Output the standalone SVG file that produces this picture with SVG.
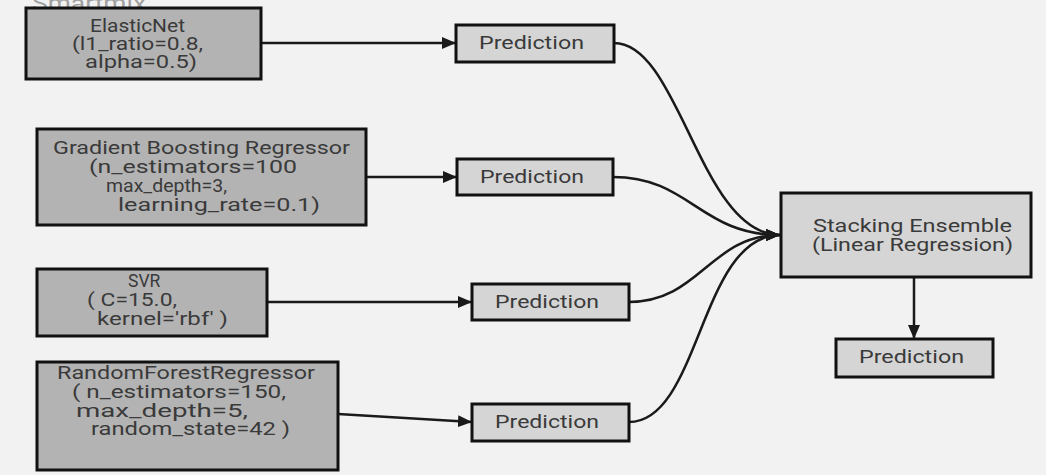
<svg xmlns="http://www.w3.org/2000/svg" width="1046" height="475" viewBox="0 0 1046 475">
<defs>
<style>
.bg{fill:#f2f2f2}
.model{fill:#b3b3b3;stroke:#111;stroke-width:3}
.pred{fill:#d5d5d5;stroke:#111;stroke-width:3}
.t{font-family:Roboto,"Liberation Sans",sans-serif;font-size:17.5px;fill:#3a3a3a}
.wm{font-family:Roboto,"Liberation Sans",sans-serif;font-size:22px;fill:#a0a0a0}
.c{fill:none;stroke:#1a1a1a;stroke-width:2.5}
</style>
<marker id="ah" markerUnits="userSpaceOnUse" markerWidth="14" markerHeight="12" refX="14" refY="6" orient="auto">
<path d="M0,0 L14,6 L0,12 Z" fill="#1a1a1a"/>
</marker>
</defs>
<rect class="bg" x="0" y="0" width="1046" height="475"/>
<text class="wm" x="32" y="11" textLength="114" lengthAdjust="spacingAndGlyphs">Smartmix</text>
<g id="connectors">
<path class="c" d="M261,43 L456,43" marker-end="url(#ah)"/>
<path class="c" d="M366,177 L457,177" marker-end="url(#ah)"/>
<path class="c" d="M267,302 L472,302" marker-end="url(#ah)"/>
<path class="c" d="M338,414 L472,422" marker-end="url(#ah)"/>
<path class="c" d="M614,43 C680,43 700,235 780,235" marker-end="url(#ah)"/>
<path class="c" d="M613,177 C690,177 700,235 780,235" marker-end="url(#ah)"/>
<path class="c" d="M629,302 C700,302 710,235 780,235" marker-end="url(#ah)"/>
<path class="c" d="M629,422 C700,422 700,235 780,235" marker-end="url(#ah)"/>
<path class="c" d="M914,277 L914,339" marker-end="url(#ah)"/>
</g>
<g id="elasticnet">
<rect class="model" x="26" y="8" width="235" height="71"/>
<text class="t" x="90" y="32" textLength="95" lengthAdjust="spacingAndGlyphs">ElasticNet</text>
<text class="t" x="72" y="50" textLength="131" lengthAdjust="spacingAndGlyphs">(l1_ratio=0.8,</text>
<text class="t" x="85" y="68" textLength="112" lengthAdjust="spacingAndGlyphs">alpha=0.5)</text>
</g>
<g id="gbr">
<rect class="model" x="37" y="129" width="329" height="96"/>
<text class="t" x="53" y="154" textLength="297" lengthAdjust="spacingAndGlyphs">Gradient Boosting Regressor</text>
<text class="t" x="89" y="173" textLength="208" lengthAdjust="spacingAndGlyphs">(n_estimators=100</text>
<text class="t" x="106" y="192" textLength="121" lengthAdjust="spacingAndGlyphs">max_depth=3,</text>
<text class="t" x="118" y="211" textLength="202" lengthAdjust="spacingAndGlyphs">learning_rate=0.1)</text>
</g>
<g id="svr">
<rect class="model" x="37" y="269" width="230" height="67"/>
<text class="t" x="128" y="287">SVR</text>
<text class="t" x="87" y="306" textLength="90" lengthAdjust="spacingAndGlyphs">( C=15.0,</text>
<text class="t" x="97" y="325" textLength="131" lengthAdjust="spacingAndGlyphs">kernel='rbf' )</text>
</g>
<g id="rfr">
<rect class="model" x="37" y="362" width="301" height="108"/>
<text class="t" x="57" y="379" textLength="258" lengthAdjust="spacingAndGlyphs">RandomForestRegressor</text>
<text class="t" x="72" y="398" textLength="214" lengthAdjust="spacingAndGlyphs">( n_estimators=150,</text>
<text class="t" x="76" y="417" textLength="172" lengthAdjust="spacingAndGlyphs">max_depth=5,</text>
<text class="t" x="91" y="435" textLength="199" lengthAdjust="spacingAndGlyphs">random_state=42 )</text>
</g>
<g id="pred1">
<rect class="pred" x="456" y="25" width="158" height="37"/>
<text class="t" x="479" y="49" textLength="105" lengthAdjust="spacingAndGlyphs">Prediction</text>
</g>
<g id="pred2">
<rect class="pred" x="457" y="159" width="156" height="36"/>
<text class="t" x="480" y="183" textLength="104" lengthAdjust="spacingAndGlyphs">Prediction</text>
</g>
<g id="pred3">
<rect class="pred" x="472" y="284" width="157" height="36"/>
<text class="t" x="495" y="308" textLength="104" lengthAdjust="spacingAndGlyphs">Prediction</text>
</g>
<g id="pred4">
<rect class="pred" x="472" y="404" width="157" height="37"/>
<text class="t" x="495" y="428" textLength="104" lengthAdjust="spacingAndGlyphs">Prediction</text>
</g>
<g id="stacking">
<rect class="pred" x="781" y="193" width="250" height="84"/>
<text class="t" x="813" y="232" textLength="199" lengthAdjust="spacingAndGlyphs">Stacking Ensemble</text>
<text class="t" x="812" y="251" textLength="201" lengthAdjust="spacingAndGlyphs">(Linear Regression)</text>
</g>
<g id="final">
<rect class="pred" x="836" y="339" width="157" height="38"/>
<text class="t" x="859" y="363" textLength="105" lengthAdjust="spacingAndGlyphs">Prediction</text>
</g>
</svg>
